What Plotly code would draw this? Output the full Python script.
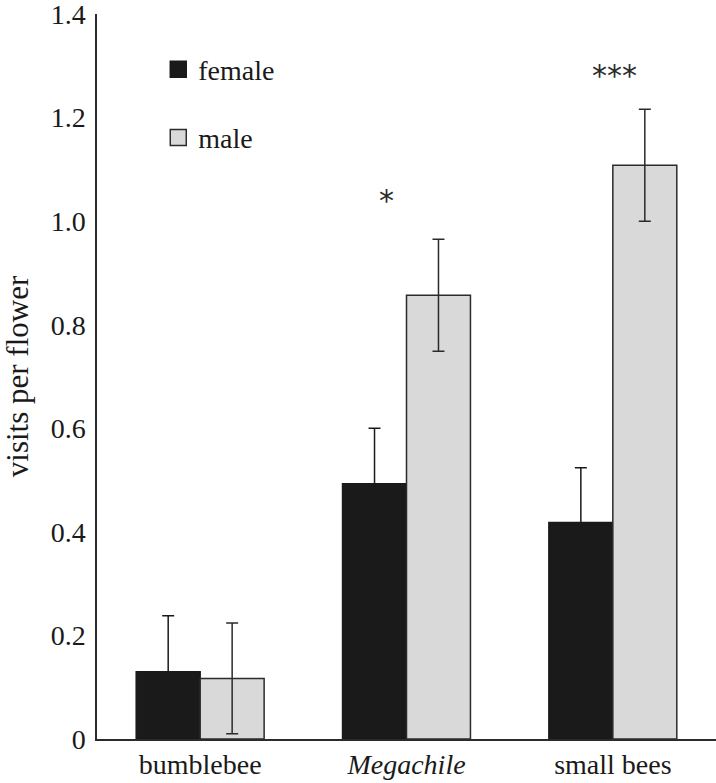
import plotly.graph_objects as go

categories = ["bumblebee", "<i>Megachile</i>", "small bees"]
female = [0.130, 0.493, 0.418]
female_err = [0.108, 0.107, 0.106]
male = [0.117, 0.857, 1.108]
male_err = [0.107, 0.108, 0.108]
sig_labels = ["", "*", "***"]
y_ticks = [0, 0.2, 0.4, 0.6, 0.8, 1.0, 1.2, 1.4]
y_ticktext = ["0", "0.2", "0.4", "0.6", "0.8", "1.0", "1.2", "1.4"]

FONT = "Liberation Serif, Times New Roman, serif"
DARK = "#2b2b2b"
BLACK = "#1a1a1a"
GREY = "#d9d9d9"

fig = go.Figure()
fig.add_trace(go.Bar(
    x=categories, y=female, name="female", showlegend=False,
    marker=dict(color=BLACK, line=dict(color=BLACK, width=1.5)),
    error_y=dict(type="data", array=female_err, visible=True,
                 color=BLACK, thickness=1.5, width=6),
))
fig.add_trace(go.Bar(
    x=categories, y=male, name="male", showlegend=False,
    marker=dict(color=GREY, line=dict(color=DARK, width=1.5)),
    error_y=dict(type="data", array=male_err, visible=True,
                 color=DARK, thickness=1.5, width=6),
))
# legend entries
fig.add_trace(go.Scatter(
    x=[None], y=[None], mode="markers", name="female", legendgroup="f",
    marker=dict(symbol="square", size=16, color=BLACK, line=dict(color=BLACK, width=1.5)),
))
fig.add_trace(go.Scatter(
    x=[None], y=[None], mode="markers", name="male", legendgroup="m",
    marker=dict(symbol="square", size=16, color=GREY, line=dict(color=DARK, width=1.5)),
))

xshifts = [0, -20, 2]
yshifts = [0, -3, -8]
for c, lab, m, e, xs, ys in zip(categories, sig_labels, male, male_err, xshifts, yshifts):
    if lab:
        fig.add_annotation(x=c, y=m + e + 0.08, text=lab, showarrow=False,
                           xshift=xs, yshift=ys, yanchor="middle",
                           font=dict(family="DejaVu Sans, sans-serif", size=30, color=DARK))

fig.update_layout(
    width=716, height=783,
    margin=dict(l=97, r=0, t=14, b=44, autoexpand=False),
    paper_bgcolor="white", plot_bgcolor="white",
    barmode="group", bargap=0.38, bargroupgap=0,
    font=dict(family=FONT, size=28, color="#1a1a1a"),
    showlegend=True,
    legend=dict(x=0.099, y=0.958, xanchor="left", yanchor="top",
                traceorder="grouped", tracegroupgap=29,
                font=dict(family=FONT, size=28, color="#1a1a1a"),
                bgcolor="rgba(0,0,0,0)", itemsizing="trace"),
    xaxis=dict(range=[-0.5, 2.5], showline=True, linecolor=DARK, linewidth=1.5,
               ticks="", showgrid=False, zeroline=False, ticklabelstandoff=0,
               automargin=False, tickfont=dict(family=FONT, size=28)),
    yaxis=dict(range=[0, 1.4001], showline=True, linecolor=DARK, linewidth=1.5,
               ticks="", showgrid=False, zeroline=False, automargin=False,
               tickvals=y_ticks, ticktext=y_ticktext, ticklabelstandoff=4,
               ticklabeloverflow="allow",
               tickfont=dict(family=FONT, size=28),
               title=dict(text="visits per flower", standoff=25,
                          font=dict(family=FONT, size=31))),
)

fig.write_html("out.html", config={"displayModeBar": False},
               post_script="document.body.style.margin='0';document.body.style.overflow='hidden';")
